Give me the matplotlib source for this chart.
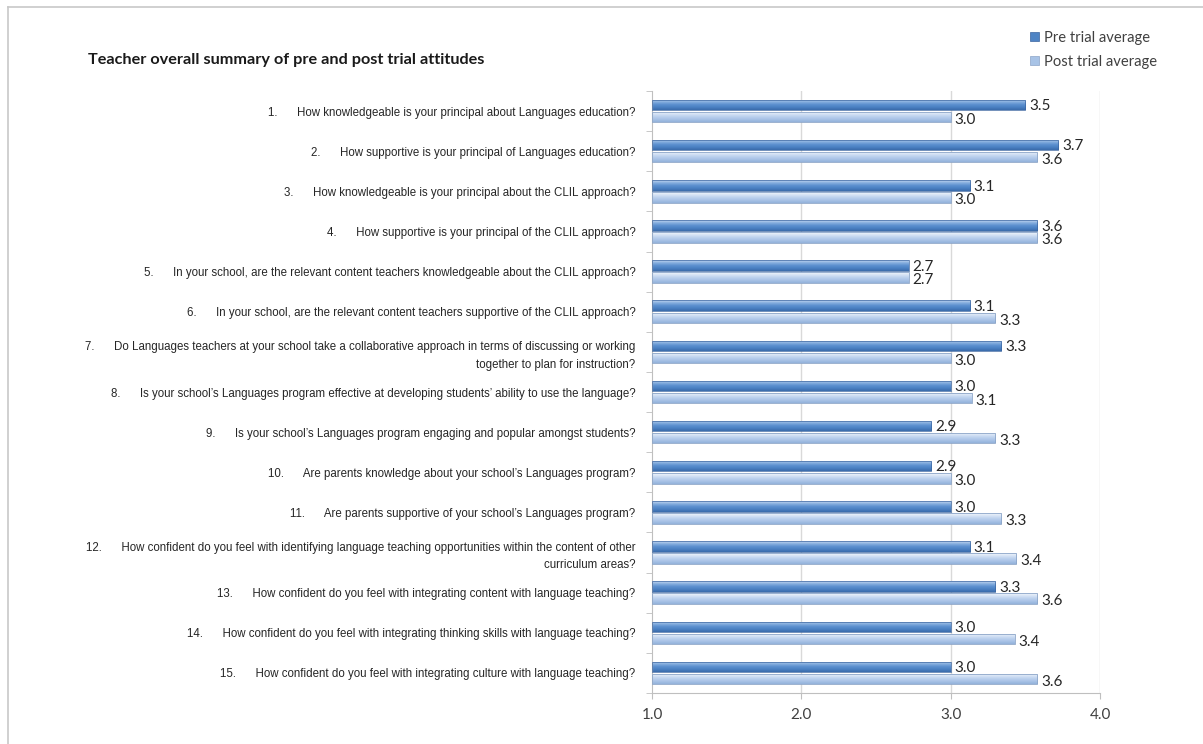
import matplotlib
matplotlib.use("Agg")
import matplotlib.pyplot as plt
import numpy as np
from matplotlib.colors import LinearSegmentedColormap
from matplotlib.patches import Patch
from matplotlib.lines import Line2D

# survey items (numbered as in the report)
question_num = ["1.", "2.", "3.", "4.", "5.", "6.", "7.", "8.", "9.", "10.",
                "11.", "12.", "13.", "14.", "15."]
question_txt = [
    "How knowledgeable is your principal about Languages education?",
    "How supportive is your principal of Languages education?",
    "How knowledgeable is your principal about the CLIL approach?",
    "How supportive is your principal of the CLIL approach?",
    "In your school, are the relevant content teachers knowledgeable about the CLIL approach?",
    "In your school, are the relevant content teachers supportive of the CLIL approach?",
    "Do Languages teachers at your school take a collaborative approach in terms of discussing or working\ntogether to plan for instruction?",
    "Is your school\u2019s Languages program effective at developing students\u2019 ability to use the language?",
    "Is your school\u2019s Languages program engaging and popular amongst students?",
    "Are parents knowledge about your school\u2019s Languages program?",
    "Are parents supportive of your school\u2019s Languages program?",
    "How confident do you feel with identifying language teaching opportunities within the content of other\ncurriculum areas?",
    "How confident do you feel with integrating content with language teaching?",
    "How confident do you feel with integrating thinking skills with language teaching?",
    "How confident do you feel with integrating culture with language teaching?",
]
pre_avg = [3.50, 3.72, 3.13, 3.58, 2.72, 3.13, 3.34, 3.00, 2.87, 2.87,
           3.00, 3.13, 3.30, 3.00, 3.00]
post_avg = [3.00, 3.58, 3.00, 3.58, 2.72, 3.30, 3.00, 3.14, 3.30, 3.00,
            3.34, 3.44, 3.58, 3.43, 3.58]
x_ticks = [1.0, 2.0, 3.0, 4.0]
series_names = ["Pre trial average", "Post trial average"]

label_font = ["Liberation Sans Narrow", "Liberation Sans", "DejaVu Sans"]
num_font = ["Lato", "DejaVu Sans"]

pre_cmap = LinearSegmentedColormap.from_list(
    "pre", ["#3A6BAA", "#4A80C2", "#5C90CF", "#86AEDF", "#C4D8F0"])
post_cmap = LinearSegmentedColormap.from_list(
    "post", ["#93B2DA", "#A8C2E6", "#BCD1EE", "#D6E3F5", "#F2F6FC"])


def gradient_bars(ax, bars, cmap):
    grad = np.linspace(0, 1, 64).reshape(-1, 1)
    for rect in bars:
        x0, y0 = rect.get_x(), rect.get_y()
        w, h = rect.get_width(), rect.get_height()
        im = ax.imshow(grad, cmap=cmap, extent=(x0, x0 + w, y0, y0 + h),
                       origin="lower", aspect="auto", zorder=2.5,
                       interpolation="bilinear")
        im.set_clip_path(rect)
        rect.set_facecolor("none")
        rect.set_zorder(2.6)


fig = plt.figure(figsize=(12.03, 7.44), dpi=100)
ax = fig.add_axes([652 / 1203, 51 / 744, 448 / 1203, 602 / 744])

n = len(question_txt)
ypos = np.arange(n)[::-1]
bh = 0.26
pre_vals = np.array(pre_avg)
post_vals = np.array(post_avg)

b_pre = ax.barh(ypos + 0.15, pre_vals - 1, left=1, height=bh,
                edgecolor="#3B65A0", linewidth=0.5)
b_post = ax.barh(ypos - 0.15, post_vals - 1, left=1, height=bh,
                 edgecolor="#8CA5C8", linewidth=0.6)
gradient_bars(ax, b_pre, pre_cmap)
gradient_bars(ax, b_post, post_cmap)

for y, v in zip(ypos, pre_vals):
    ax.text(v + 0.025, y + 0.12, f"{v:.1f}", va="center", ha="left",
            fontsize=11, family=num_font, color="#262626")
for y, v in zip(ypos, post_vals):
    ax.text(v + 0.025, y - 0.22, f"{v:.1f}", va="center", ha="left",
            fontsize=11, family=num_font, color="#262626")

ax.set_xlim(1, 4)
ax.set_ylim(-0.5, n - 0.5)
ax.set_aspect("auto")

ax.set_xticks(x_ticks)
ax.set_xticklabels([f"{t:.1f}" for t in x_ticks], family=num_font,
                   fontsize=11, color="#404040")
ax.tick_params(axis="x", length=4, color="#BFBFBF", pad=7)

labels = [f"{a}{' ' * 6}{b}" for a, b in zip(question_num, question_txt)]
ax.set_yticks(ypos)
ax.set_yticklabels(labels, family=label_font, fontsize=8.3,
                   color="#262626", multialignment="right", linespacing=1.6)
ax.set_yticks(np.arange(n + 1) - 0.5, minor=True)
ax.tick_params(axis="y", which="major", length=0, pad=12)
ax.tick_params(axis="y", which="minor", length=4, color="#BFBFBF")

for t in x_ticks[1:]:
    ax.axvline(t, color="#D9D9D9", lw=1, zorder=1)
for s in ["top", "right"]:
    ax.spines[s].set_visible(False)
for s in ["left", "bottom"]:
    ax.spines[s].set_color("#BFBFBF")

fig.text(88 / 1203, 1 - 60 / 744,
         "Teacher overall summary of pre and post trial attitudes",
         family=num_font, fontweight="bold", fontsize=11.7, va="center",
         color="#1A1A1A")

handles = [Patch(facecolor="#4F84C4", edgecolor="#3B65A0", lw=0.5),
           Patch(facecolor="#A8C3E6", edgecolor="#8CA5C8", lw=0.5)]
fig.legend(handles, series_names, loc="upper left",
           bbox_to_anchor=(1030 / 1203, 1 - 31 / 744), frameon=False,
           prop={"family": num_font, "size": 10.6}, labelcolor="#404040",
           handlelength=0.6, handleheight=0.6, handletextpad=0.35,
           labelspacing=0.65, borderpad=0, borderaxespad=0)

# outer frame of the original chart (only top and left edges show)
fig.add_artist(Line2D([8 / 1203, 8 / 1203], [0, 1 - 7 / 744],
                      transform=fig.transFigure, color="#C8C8C8", lw=1.2))
fig.add_artist(Line2D([8 / 1203, 1], [1 - 7 / 744, 1 - 7 / 744],
                      transform=fig.transFigure, color="#C8C8C8", lw=1.2))

fig.savefig("out.png", dpi=100, facecolor="white")
